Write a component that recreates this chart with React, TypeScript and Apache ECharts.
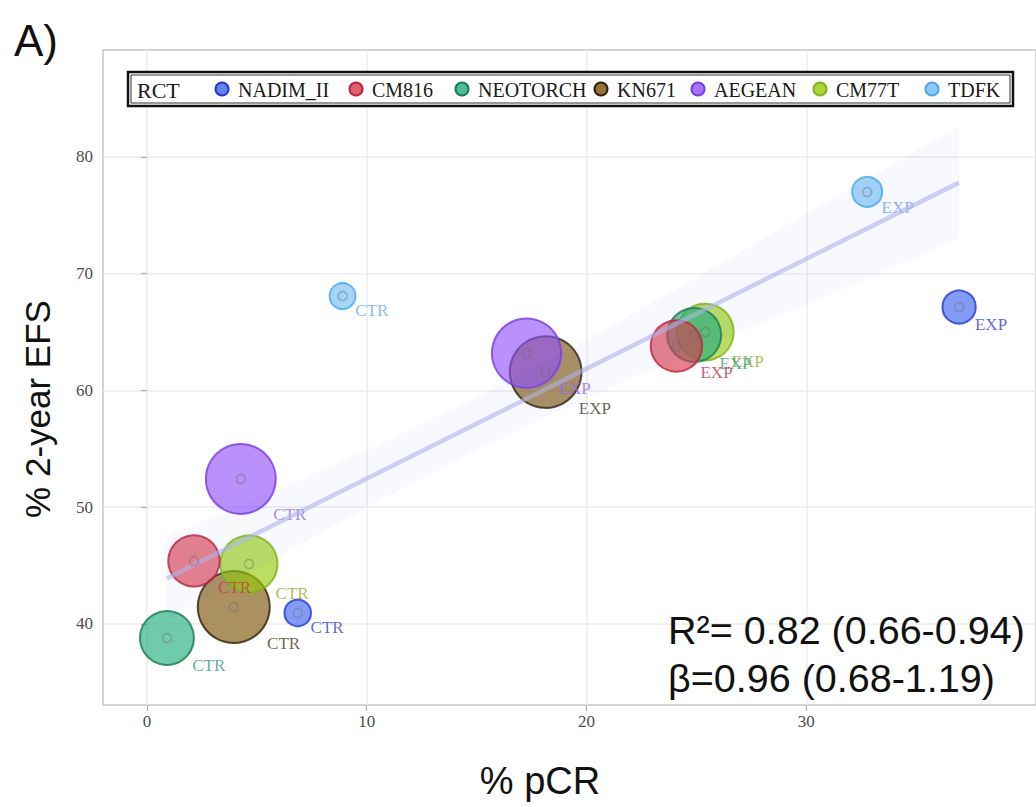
import React, { useEffect, useRef } from 'react';
import * as echarts from 'echarts';

// ---------- data ----------
const trials = ['NADIM_II', 'CM816', 'NEOTORCH', 'KN671', 'AEGEAN', 'CM77T', 'TDFK'];
const ctrPcr = [6.86, 2.14, 0.91, 3.95, 4.27, 4.64, 8.9];
const ctrEfs = [40.94, 45.4, 38.8, 41.46, 52.42, 45.14, 68.09];
const expPcr = [36.95, 24.09, 24.9, 18.14, 17.27, 25.4, 32.77];
const expEfs = [67.15, 63.81, 64.75, 61.58, 63.2, 65.0, 77.0];
const ctrN = [29, 179, 202, 400, 374, 232, 27];
const expN = [57, 179, 202, 397, 366, 229, 42];
const armLabels = ['CTR', 'EXP'];
const fitX = [0.9, 36.95];
const fitY = [43.9, 77.8];
const bandX = [0.9, 5, 10, 15, 20, 25, 30, 36.95];
const bandLower = [40.3, 44.75, 50.0, 54.85, 59.35, 63.45, 67.35, 73.0];
const bandUpper = [47.5, 50.75, 54.9, 59.45, 64.35, 69.65, 75.15, 82.6];
const xTicks = [0, 10, 20, 30];
const yTicks = [40, 50, 60, 70, 80];
const legendTitle = 'RCT';
const statLines = ['R\u00b2= 0.82 (0.66-0.94)', '\u03b2=0.96 (0.68-1.19)'];

// ---------- styles ----------
const fills: Record<string, string> = {
  NADIM_II: 'rgba(60,100,240,0.8)',
  CM816: 'rgba(216,56,76,0.8)',
  NEOTORCH: 'rgba(31,174,124,0.8)',
  KN671: 'rgba(124,81,6,0.8)',
  AEGEAN: 'rgba(146,81,250,0.8)',
  CM77T: 'rgba(149,204,9,0.8)',
  TDFK: 'rgba(111,189,246,0.8)',
};
const borders: Record<string, string> = {
  NADIM_II: '#2436d6',
  CM816: '#c2223a',
  NEOTORCH: '#1a7a52',
  KN671: '#2e200a',
  AEGEAN: '#7a3af0',
  CM77T: '#80b418',
  TDFK: '#4aa6ee',
};
const textColors: Record<string, string> = {
  NADIM_II: '#3a44d0',
  CM816: '#c03a48',
  NEOTORCH: '#3a9a80',
  KN671: '#4a3a24',
  AEGEAN: '#9a66ee',
  CM77T: '#90b030',
  TDFK: '#6aaaf0',
};
// legend layout (pixel positions of key dots)
const LEGEND_DOT_X = [222, 356, 462, 601, 698, 820, 932];
const LEGEND_Y = 89;
const SERIF = "'Liberation Serif', 'DejaVu Serif', serif";
const SANS = "'Liberation Sans', Arial, sans-serif";

const allN = [...ctrN, ...expN];
const nMin = Math.min(...allN);
const nMax = Math.max(...allN);
const D_MIN = 26;
const D_MAX = 72;
const sizeOf = (n: number) =>
  D_MIN + ((Math.sqrt(n) - Math.sqrt(nMin)) / (Math.sqrt(nMax) - Math.sqrt(nMin))) * (D_MAX - D_MIN);

// draw larger trials first (underneath)
const drawOrder = trials
  .map((t, i) => ({ t, i, n: ctrN[i] + expN[i] }))
  .sort((a, b) => b.n - a.n);

function buildOption() {
  const bubbleSeries = drawOrder.map(({ t, i }) => ({
    type: 'scatter',
    name: t,
    z: 2,
    data: [
      [ctrPcr[i], ctrEfs[i], ctrN[i], armLabels[0]],
      [expPcr[i], expEfs[i], expN[i], armLabels[1]],
    ],
    symbol: 'circle',
    symbolSize: (v: any[]) => sizeOf(v[2]),
    itemStyle: { color: fills[t], borderColor: borders[t], borderWidth: 2 },
    label: {
      show: true,
      formatter: (p: any) => p.value[3],
      position: ['95%', '100%'],
      align: 'left',
      verticalAlign: 'middle',
      color: textColors[t],
      fontFamily: SERIF,
      fontSize: 17,
    },
    emphasis: { disabled: true },
  }));

  const ringData: number[][] = [];
  trials.forEach((_, i) => {
    ringData.push([ctrPcr[i], ctrEfs[i]]);
    ringData.push([expPcr[i], expEfs[i]]);
  });

  const legendItems: any[] = [];
  trials.forEach((t, k) => {
    legendItems.push({
      type: 'circle',
      z: 6,
      shape: { cx: LEGEND_DOT_X[k], cy: LEGEND_Y, r: 6.5 },
      style: { fill: fills[t], stroke: borders[t], lineWidth: 2 },
    });
    legendItems.push({
      type: 'text',
      z: 6,
      x: LEGEND_DOT_X[k] + 16,
      y: LEGEND_Y + 1,
      style: { text: t, fontFamily: SERIF, fontSize: 20, fill: '#1a1a1a', verticalAlign: 'middle' },
    });
  });

  const axisLabelStyle = {
    fontFamily: SERIF,
    fontSize: 17,
    color: '#4d4d4d',
  };

  return {
    animation: false,
    backgroundColor: '#ffffff',
    grid: {
      left: 103,
      top: 50,
      width: 935,
      height: 655,
      show: true,
      borderColor: '#c6c6c6',
      borderWidth: 1.5,
      backgroundColor: '#ffffff',
    },
    xAxis: {
      type: 'value',
      min: -2,
      max: 40.45,
      axisLine: { show: false },
      axisTick: { show: true, length: 6, customValues: xTicks, lineStyle: { color: '#b0b0b0', width: 1.2 } },
      axisLabel: { ...axisLabelStyle, customValues: xTicks, margin: 8 },
      splitLine: { show: true, lineStyle: { color: '#ececec', width: 1.5 } },
    },
    yAxis: {
      type: 'value',
      min: 33.06,
      max: 89.16,
      axisLine: { show: false },
      axisTick: { show: true, length: 6, customValues: yTicks, lineStyle: { color: '#b0b0b0', width: 1.2 } },
      axisLabel: { ...axisLabelStyle, customValues: yTicks, margin: 10 },
      splitLine: { show: true, lineStyle: { color: '#ececec', width: 1.5 } },
    },
    graphic: [
      {
        type: 'rect',
        z: 5,
        shape: { x: 128, y: 72, width: 885, height: 34 },
        style: { fill: '#ffffff', stroke: '#111111', lineWidth: 2.5 },
      },
      {
        type: 'rect',
        z: 5,
        shape: { x: 131, y: 75, width: 879, height: 28 },
        style: { fill: 'none', stroke: '#333333', lineWidth: 1 },
      },
      {
        type: 'text',
        z: 6,
        x: 137,
        y: 90,
        style: { text: legendTitle, fontFamily: SERIF, fontSize: 22, fill: '#1a1a1a', verticalAlign: 'middle' },
      },
      ...legendItems,
      {
        type: 'text',
        x: 14,
        y: 40,
        style: { text: 'A)', fontFamily: SANS, fontSize: 44, fill: '#111111', verticalAlign: 'middle' },
      },
      {
        type: 'text',
        x: 37,
        y: 409,
        rotation: Math.PI / 2,
        style: {
          text: '% 2-year EFS',
          fontFamily: SANS,
          fontSize: 35,
          fill: '#111111',
          align: 'center',
          verticalAlign: 'middle',
        },
      },
      {
        type: 'text',
        x: 540,
        y: 781,
        style: {
          text: '% pCR',
          fontFamily: SANS,
          fontSize: 38,
          fill: '#111111',
          align: 'center',
          verticalAlign: 'middle',
        },
      },
      ...statLines.map((s, k) => ({
        type: 'text',
        z: 10,
        x: 668,
        y: 630 + k * 48,
        style: { text: s, fontFamily: SANS, fontSize: 39.5, fill: '#111111', verticalAlign: 'middle' },
      })),
    ],
    series: [
      ...bubbleSeries,
      {
        type: 'scatter',
        name: 'centers',
        z: 4,
        silent: true,
        data: ringData,
        symbol: 'circle',
        symbolSize: 9,
        itemStyle: { color: 'rgba(0,0,0,0)', borderColor: 'rgba(110,110,110,0.55)', borderWidth: 1.5 },
      },
      {
        type: 'custom',
        name: 'band',
        z: 3,
        silent: true,
        data: [[bandX[0], bandLower[0]]],
        renderItem: (_params: any, api: any) => {
          const pts: number[][] = [];
          bandX.forEach((x, i) => pts.push(api.coord([x, bandUpper[i]])));
          for (let i = bandX.length - 1; i >= 0; i--) pts.push(api.coord([bandX[i], bandLower[i]]));
          return {
            type: 'polygon',
            shape: { points: pts },
            style: { fill: 'rgba(70,110,240,0.045)' },
          };
        },
      },
      {
        type: 'line',
        name: 'fit',
        z: 3,
        silent: true,
        showSymbol: false,
        data: fitX.map((x, i) => [x, fitY[i]]),
        lineStyle: { color: 'rgba(175,178,235,0.6)', width: 4.5 },
      },
    ],
  };
}

export default function App() {
  const ref = useRef<HTMLDivElement>(null);
  useEffect(() => {
    if (!ref.current) return;
    const chart = echarts.init(ref.current, null, { renderer: 'svg' });
    chart.setOption(buildOption() as any);
    return () => chart.dispose();
  }, []);
  return (
    <div
      ref={ref}
      style={{ position: 'absolute', left: 0, top: 0, width: 1036, height: 807, background: '#ffffff' }}
    />
  );
}
